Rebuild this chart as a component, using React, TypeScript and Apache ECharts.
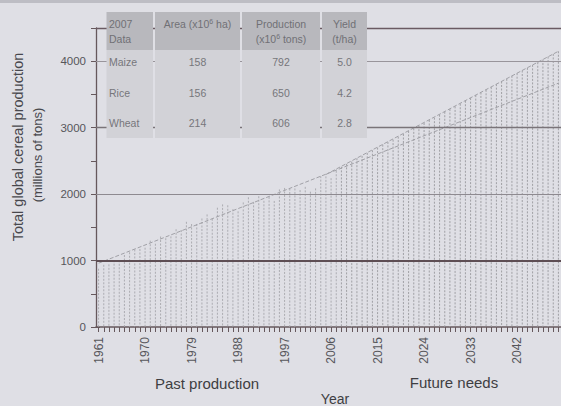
import React, { useEffect, useRef } from "react";
import * as echarts from "echarts";

const years = [
  "1961","1962","1963","1964","1965","1966","1967","1968","1969","1970",
  "1971","1972","1973","1974","1975","1976","1977","1978","1979","1980",
  "1981","1982","1983","1984","1985","1986","1987","1988","1989","1990",
  "1991","1992","1993","1994","1995","1996","1997","1998","1999","2000",
  "2001","2002","2003","2004","2005","2006","2007","2008","2009","2010",
  "2011","2012","2013","2014","2015","2016","2017","2018","2019","2020",
  "2021","2022","2023","2024","2025","2026","2027","2028","2029","2030",
  "2031","2032","2033","2034","2035","2036","2037","2038","2039","2040",
  "2041","2042","2043","2044","2045","2046","2047","2048","2049","2050",
];

// 1961-2007, millions of tons
const pastProduction = [
  877, 936, 943, 1005, 1004, 1083, 1125, 1167, 1174, 1193,
  1299, 1253, 1362, 1336, 1364, 1471, 1459, 1583, 1550, 1551,
  1633, 1694, 1629, 1795, 1845, 1832, 1773, 1741, 1875, 1952,
  1883, 1968, 1899, 1958, 1897, 2070, 2093, 2084, 2085, 2060,
  2109, 2036, 2086, 2271, 2267, 2240, 2351,
];

// 2008-2050, millions of tons
const futureNeeds = [
  2410, 2455, 2490, 2540, 2575, 2620, 2660, 2700, 2745, 2785,
  2820, 2865, 2905, 2950, 2990, 3030, 3070, 3115, 3150, 3195,
  3240, 3280, 3320, 3360, 3405, 3445, 3490, 3530, 3570, 3610,
  3655, 3695, 3735, 3780, 3820, 3860, 3900, 3945, 3985, 4025,
  4070, 4110, 4150,
];

const pastTrend = [["1961", 960], ["2050", 3670]];
const needsTrend = [["2005", 2295], ["2050", 4150]];

const yTicks = [0, 1000, 2000, 3000, 4000];

const tableCrops = ["Maize", "Rice", "Wheat"];
const tableArea = ["158", "156", "214"];
const tableProduction = ["792", "650", "606"];
const tableYield = ["5.0", "4.2", "2.8"];

const BG = "#dfdfe5";
const FONT = "'Liberation Sans', Arial, sans-serif";

export default function App() {
  const ref = useRef<HTMLDivElement>(null);

  useEffect(() => {
    const chart = echarts.init(ref.current!, null, { renderer: "svg" });
    const values = [...pastProduction, ...futureNeeds];
    const barData = values.map((v, i) => [i, v]);
    const nPast = pastProduction.length;

    const cols = [
      { x0: 106.5, x1: 153 },
      { x0: 155, x1: 240 },
      { x0: 242, x1: 320 },
      { x0: 322, x1: 367 },
    ];
    const headTop = 12, headBot = 50, bodyBot = 138;
    const rowY = [62, 92.5, 123];
    const headColor = "#707075";
    const bodyColor = "#76767b";
    const tf = 10.5;

    const graphics: any[] = [];
    graphics.push({ type: "rect", z: 90, shape: { x: 0, y: 0, width: 561, height: 3 }, style: { fill: "#bdbdc4" } });
    cols.forEach((c) => {
      graphics.push({ type: "rect", z: 100, shape: { x: c.x0, y: headTop, width: c.x1 - c.x0, height: headBot - headTop }, style: { fill: "#b8b8bd" } });
      graphics.push({ type: "rect", z: 100, shape: { x: c.x0, y: headBot, width: c.x1 - c.x0, height: bodyBot - headBot }, style: { fill: "#d2d2d7" } });
    });
    const txt = (text: string, x: number, y: number, align: string, color: string, rich?: any) => ({
      type: "text", z: 110, x, y,
      style: { text, fill: color, fontSize: tf, fontFamily: FONT, align, verticalAlign: "middle", rich },
    });
    const sup = {
      n: { fontSize: tf, fontFamily: FONT, fill: headColor },
      s: { fontSize: 7, fontFamily: FONT, fill: headColor, verticalAlign: "top", padding: [0, 0, 5, 0] },
    };
    graphics.push(txt("2007", 109, 23.5, "left", headColor));
    graphics.push(txt("Data", 109, 38.5, "left", headColor));
    graphics.push(txt("{n|Area (x10}{s|6}{n| ha)}", (cols[1].x0 + cols[1].x1) / 2, 23.5, "center", headColor, sup));
    graphics.push(txt("Production", (cols[2].x0 + cols[2].x1) / 2, 23.5, "center", headColor));
    graphics.push(txt("{n|(x10}{s|6}{n| tons)}", (cols[2].x0 + cols[2].x1) / 2, 38.5, "center", headColor, sup));
    graphics.push(txt("Yield", (cols[3].x0 + cols[3].x1) / 2, 23.5, "center", headColor));
    graphics.push(txt("(t/ha)", (cols[3].x0 + cols[3].x1) / 2, 38.5, "center", headColor));
    tableCrops.forEach((crop, i) => {
      graphics.push(txt(crop, 109, rowY[i], "left", bodyColor));
      graphics.push(txt(tableArea[i], (cols[1].x0 + cols[1].x1) / 2, rowY[i], "center", bodyColor));
      graphics.push(txt(tableProduction[i], (cols[2].x0 + cols[2].x1) / 2, rowY[i], "center", bodyColor));
      graphics.push(txt(tableYield[i], (cols[3].x0 + cols[3].x1) / 2, rowY[i], "center", bodyColor));
    });

    graphics.push({
      type: "text", z: 110, x: 18, y: 147, rotation: Math.PI / 2,
      style: { text: "Total global cereal production", fill: "#48484d", fontSize: 14.5, fontFamily: FONT, align: "center", verticalAlign: "middle" },
    });
    graphics.push({
      type: "text", z: 110, x: 37.5, y: 155, rotation: Math.PI / 2,
      style: { text: "(millions of tons)", fill: "#48484d", fontSize: 13, fontFamily: FONT, align: "center", verticalAlign: "middle" },
    });
    graphics.push({
      type: "text", z: 110, x: 207, y: 383,
      style: { text: "Past production", fill: "#3e3e42", fontSize: 15, fontFamily: FONT, align: "center", verticalAlign: "middle" },
    });
    graphics.push({
      type: "text", z: 110, x: 454, y: 382,
      style: { text: "Future needs", fill: "#3e3e42", fontSize: 15, fontFamily: FONT, align: "center", verticalAlign: "middle" },
    });
    graphics.push({
      type: "text", z: 110, x: 335, y: 399,
      style: { text: "Year", fill: "#3e3e42", fontSize: 14, fontFamily: FONT, align: "center", verticalAlign: "middle" },
    });

    const axisColor = "#66585c";

    const option: any = {
      animation: false,
      backgroundColor: BG,
      textStyle: { fontFamily: FONT },
      grid: { left: 96, right: -5, top: 28, bottom: 79, containLabel: false },
      xAxis: {
        type: "category",
        data: years,
        boundaryGap: true,
        axisLine: { show: true, lineStyle: { color: axisColor, width: 1.5 } },
        axisTick: { show: true, interval: 0, length: 5, alignWithLabel: true, lineStyle: { color: axisColor, width: 1 } },
        axisLabel: { interval: 8, rotate: 90, fontSize: 12, color: "#56565a", margin: 10, fontFamily: FONT },
        splitLine: { show: false },
      },
      yAxis: [
        {
          type: "value",
          min: 0,
          max: 4500,
          interval: 500,
          axisLine: { show: true, lineStyle: { color: axisColor, width: 1.3 } },
          axisTick: { show: true, length: 5, lineStyle: { color: axisColor } },
          axisLabel: {
            fontSize: 11.5, color: "#56565a", margin: 10, fontFamily: FONT,
            formatter: (v: number) => (yTicks.indexOf(v) >= 0 ? String(v) : ""),
          },
          splitLine: { show: false },
        },
        {
          type: "value",
          min: 0,
          max: 4500,
          interval: 1000,
          position: "left",
          axisLine: { show: false },
          axisTick: { show: true, inside: true, length: 4, lineStyle: { color: axisColor } },
          axisLabel: { show: false },
          splitLine: { show: false },
        },
      ],
      series: [
        {
          type: "custom",
          name: "Production",
          data: barData,
          encode: { x: 0, y: 1 },
          z: 2,
          renderItem: (params: any, api: any) => {
            const idx = api.value(0);
            const v = api.value(1);
            const top = api.coord([idx, v]);
            const base = api.coord([idx, 0]);
            const past = params.dataIndex < nPast;
            return {
              type: "line",
              shape: { x1: top[0], y1: top[1], x2: base[0], y2: base[1] },
              style: { stroke: past ? "#a6a6ab" : "#98989d", lineWidth: 0.9, lineDash: [2, 1.5] },
            };
          },
        },
        {
          type: "line",
          name: "Trend",
          data: pastTrend,
          symbol: "none",
          z: 3,
          lineStyle: { color: "#a0a0a6", width: 1, type: [4, 2] },
          markLine: {
            silent: true,
            symbol: "none",
            label: { show: false },
            data: [
              { yAxis: 1000, lineStyle: { color: "#5e4e54", width: 1.8, type: "solid" } },
              { yAxis: 2000, lineStyle: { color: "#8e8a90", width: 1, type: "solid" } },
              { yAxis: 3000, lineStyle: { color: "#7a7479", width: 1.3, type: "solid" } },
              { yAxis: 4000, lineStyle: { color: "#99959b", width: 1, type: "solid" } },
              { yAxis: 4500, lineStyle: { color: "#6a5a62", width: 1.4, type: "solid" } },
            ],
          },
        },
        {
          type: "line",
          name: "Needs",
          data: needsTrend,
          symbol: "none",
          z: 3,
          lineStyle: { color: "#a0a0a6", width: 1, type: [4, 2] },
        },
      ],
      graphic: graphics,
    };

    chart.setOption(option);
    return () => chart.dispose();
  }, []);

  return (
    <div
      ref={ref}
      style={{ position: "absolute", left: 0, top: 0, width: 561, height: 406, background: BG }}
    />
  );
}
